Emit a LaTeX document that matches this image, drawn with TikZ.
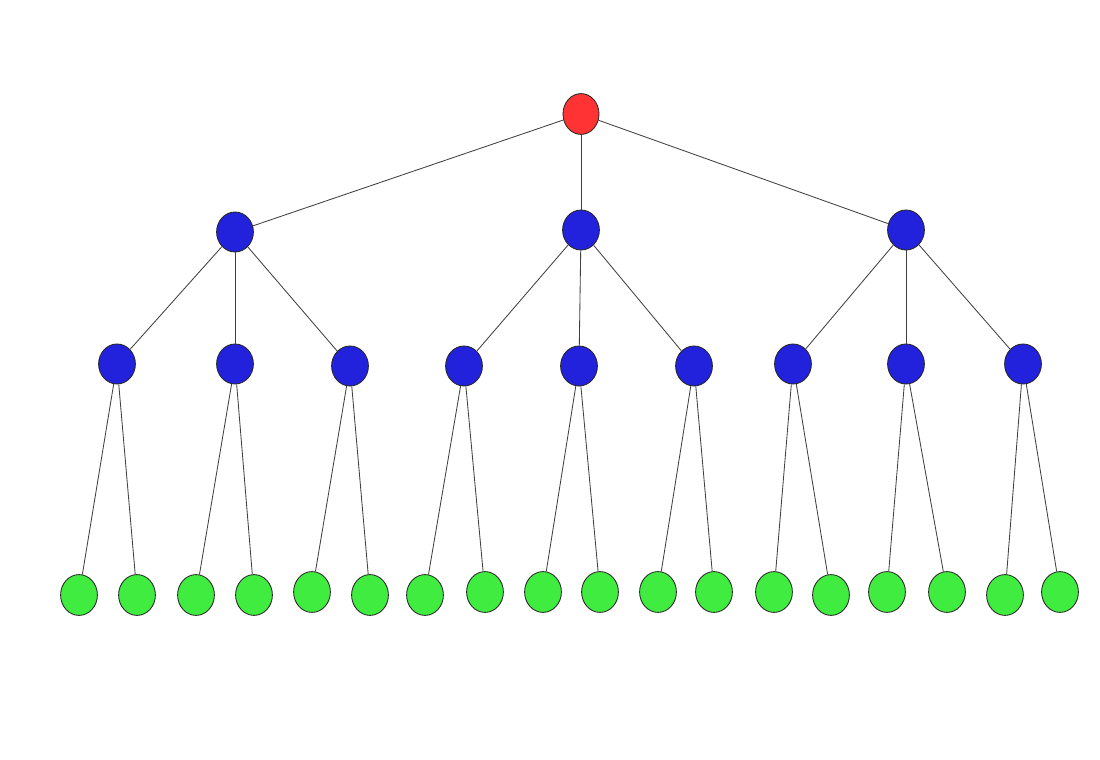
\documentclass[tikz,border=0pt]{standalone}
\usepackage{tikz}
\usetikzlibrary{shapes.geometric}
\definecolor{rootred}{RGB}{255,51,51}
\definecolor{innerblue}{RGB}{34,34,221}
\definecolor{leafgreen}{RGB}{64,236,64}
\tikzstyle{rootnode} = [ellipse, inner sep=0pt, minimum width=0.9cm, minimum height=1.02cm, draw=black!85, line width=0.6pt, fill=rootred]
\tikzstyle{inner} = [ellipse, inner sep=0pt, minimum width=0.92cm, minimum height=1cm, draw=black!85, line width=0.6pt, fill=innerblue]
\tikzstyle{leaf} = [ellipse, inner sep=0pt, minimum width=0.92cm, minimum height=1.02cm, draw=black!85, line width=0.6pt, fill=leafgreen]
\tikzstyle{edge} = [draw=black!75, line width=0.6pt]

\begin{document}
\begin{tikzpicture}[x=0.025cm, y=-0.025cm]

\useasboundingbox (0,0) rectangle (1100,760);

\node (root) [rootnode] at (581,114) {};

\node (left) [inner] at (235,232) {};
\node (mid) [inner] at (581,230) {};
\node (right) [inner] at (906,230) {};

\node (la) [inner] at (117,364) {};
\node (lb) [inner] at (235,364) {};
\node (lc) [inner] at (350,366) {};
\node (ma) [inner] at (464,366) {};
\node (mb) [inner] at (579,366) {};
\node (mc) [inner] at (694,366) {};
\node (ra) [inner] at (793,364) {};
\node (rb) [inner] at (906,364) {};
\node (rc) [inner] at (1023,364) {};

\node (la1) [leaf] at (79,595) {};
\node (la2) [leaf] at (137,595) {};
\node (lb1) [leaf] at (196,595) {};
\node (lb2) [leaf] at (254,595) {};
\node (lc1) [leaf] at (312,592) {};
\node (lc2) [leaf] at (370,595) {};
\node (ma1) [leaf] at (425,595) {};
\node (ma2) [leaf] at (485,592) {};
\node (mb1) [leaf] at (543,592) {};
\node (mb2) [leaf] at (600,592) {};
\node (mc1) [leaf] at (658,592) {};
\node (mc2) [leaf] at (714,592) {};
\node (ra1) [leaf] at (774,592) {};
\node (ra2) [leaf] at (831,595) {};
\node (rb1) [leaf] at (887,592) {};
\node (rb2) [leaf] at (947,592) {};
\node (rc1) [leaf] at (1005,595) {};
\node (rc2) [leaf] at (1060,592) {};

\draw [edge] (root) -- (left);
\draw [edge] (root) -- (mid);
\draw [edge] (root) -- (right);

\draw [edge] (left) -- (la);
\draw [edge] (left) -- (lb);
\draw [edge] (left) -- (lc);
\draw [edge] (mid) -- (ma);
\draw [edge] (mid) -- (mb);
\draw [edge] (mid) -- (mc);
\draw [edge] (right) -- (ra);
\draw [edge] (right) -- (rb);
\draw [edge] (right) -- (rc);

\draw [edge] (la) -- (la1);
\draw [edge] (la) -- (la2);
\draw [edge] (lb) -- (lb1);
\draw [edge] (lb) -- (lb2);
\draw [edge] (lc) -- (lc1);
\draw [edge] (lc) -- (lc2);
\draw [edge] (ma) -- (ma1);
\draw [edge] (ma) -- (ma2);
\draw [edge] (mb) -- (mb1);
\draw [edge] (mb) -- (mb2);
\draw [edge] (mc) -- (mc1);
\draw [edge] (mc) -- (mc2);
\draw [edge] (ra) -- (ra1);
\draw [edge] (ra) -- (ra2);
\draw [edge] (rb) -- (rb1);
\draw [edge] (rb) -- (rb2);
\draw [edge] (rc) -- (rc1);
\draw [edge] (rc) -- (rc2);

\end{tikzpicture}
\end{document}
